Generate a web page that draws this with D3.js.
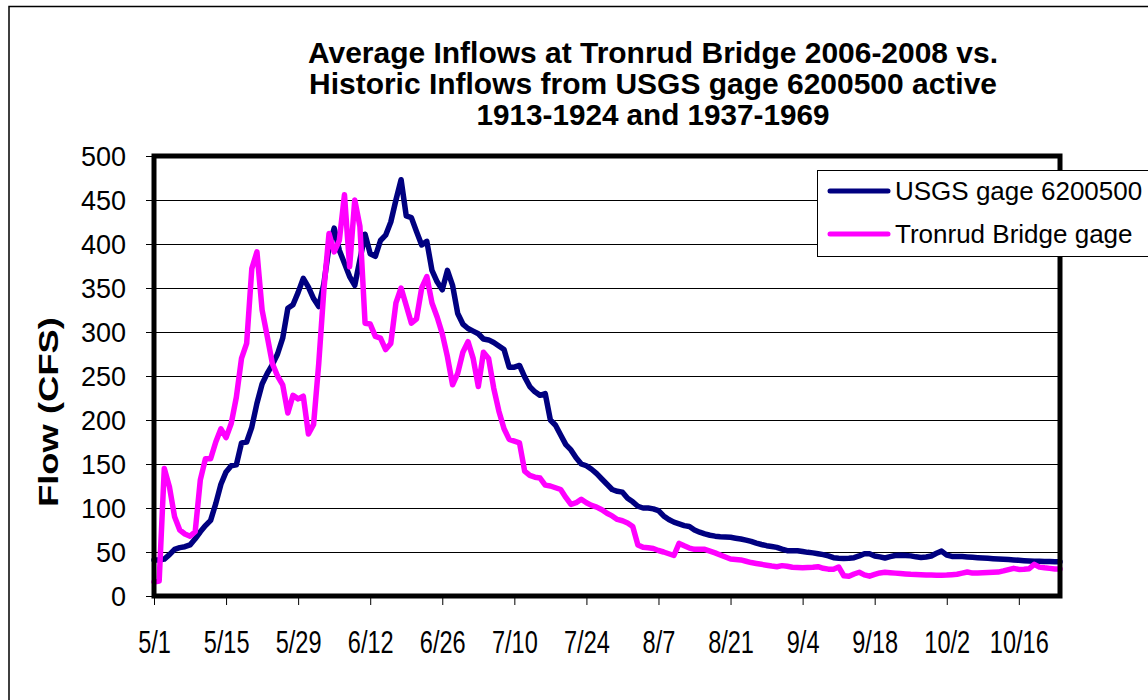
<!DOCTYPE html>
<html>
<head>
<meta charset="utf-8">
<script src="https://cdn.jsdelivr.net/npm/d3@7"></script>
<style>
  body { margin: 0; background: #fff; }
  text { font-family: "Liberation Sans", Arial, sans-serif; fill: #000; }
</style>
</head>
<body>
<svg id="chart"></svg>
<script>
// daily flows, 5/1 .. 10/24 (177 days)
const firstDay = "5/1";
const lastDay = "10/24";

const usgsFlow = [
  41, 41, 42, 47, 53, 55, 56, 58, 65, 73,
  80, 86, 105, 127, 141, 148, 149, 174, 175, 192,
  219, 241, 253, 263, 275, 293, 327, 331, 345, 361,
  351, 338, 329, 355, 397, 418, 393, 378, 363, 353,
  382, 411, 389, 386, 404, 410, 425, 450, 473, 432,
  430, 414, 399, 403, 370, 357, 348, 370, 353, 321,
  309, 304, 301, 298, 292, 291, 288, 284, 280, 260,
  260, 262, 249, 238, 232, 228, 230, 200, 194, 183,
  172, 166, 157, 150, 148, 144, 139, 133, 127, 121,
  119, 118, 111, 107, 102, 100, 100, 99, 97, 91,
  87, 84, 82, 80, 79, 75, 72.5, 70.5, 69, 68,
  67.4, 67, 66.7, 65.7, 64.8, 63.5, 62, 60, 58.5, 57.2,
  56.3, 55.3, 53.3, 51.5, 51.5, 51.5, 50.5, 49.6, 49, 48,
  47, 45.5, 43.5, 43, 42.7, 42.8, 43.5, 45.5, 48, 48,
  45.5, 44.5, 43.2, 44.8, 46, 46.2, 46, 45.6, 44.5, 43.7,
  44.4, 45.5, 48.5, 51, 46.5, 45, 45, 44.8, 44.4, 44,
  43.6, 43.2, 42.8, 42.4, 42.1, 41.8, 41.4, 41, 40.5, 40.1,
  39.8, 39.5, 39.4, 39.3, 39.1, 39, 39
];

const tronrudFlow = [
  16, 17, 145, 124, 90, 75, 70.5, 68, 73, 132,
  156, 156, 175, 190, 180, 196, 226, 270, 287, 372,
  391, 325, 295, 264, 250, 240, 208, 228, 224, 227,
  184, 195, 264, 348, 412, 391, 404, 456, 374, 450,
  420, 310, 309, 295, 293, 280, 287, 333, 350, 330,
  310, 315, 350, 363, 333, 317, 298, 272, 240, 253,
  277, 289, 270, 238, 277, 270, 236, 210, 190, 178,
  176, 174, 142, 137, 135, 134, 126, 125, 123, 121,
  112, 104, 106, 110, 106, 103, 101, 98, 94, 91,
  87, 85.5, 83, 79, 58, 55.3, 54.8, 54, 51.7, 50,
  48, 46, 59.8, 57, 54.5, 53, 53, 53, 51, 49,
  46.6, 44.3, 42, 41.5, 41, 39.5, 38, 37, 36, 35,
  34, 33.3, 34.5, 33.8, 32.7, 32.4, 32.2, 32.4, 32.6, 33.3,
  31.5, 30.5, 30.4, 33, 23, 22.5, 25, 27, 24, 22.5,
  24.5, 26.2, 27, 26.5, 26, 25.5, 25, 24.6, 24.4, 24.2,
  24, 23.8, 23.7, 23.6, 23.8, 24.2, 24.7, 26, 27.3, 26,
  26.1, 26.3, 26.6, 27, 27.2, 28.5, 30, 31.4, 30.2, 30.4,
  31, 36, 32.8, 32, 31.4, 30.8, 30.8
];

const seriesNames = ["USGS gage 6200500", "Tronrud Bridge gage"];
const seriesColors = ["#000080", "#ff00ff"];

const xTickLabels = ["5/1", "5/15", "5/29", "6/12", "6/26", "7/10", "7/24",
                     "8/7", "8/21", "9/4", "9/18", "10/2", "10/16"];
const yTicks = [0, 50, 100, 150, 200, 250, 300, 350, 400, 450, 500];

const titleLines = [
  "Average Inflows at Tronrud Bridge 2006-2008 vs.",
  "Historic Inflows from USGS gage 6200500 active",
  "1913-1924 and 1937-1969"
];
const yTitle = "Flow (CFS)";

const width = 1148, height = 700;
const plot = { left: 154, right: 1060, top: 156, bottom: 596 };

const parseDay = d3.timeParse("%m/%d");
const days = d3.timeDay.range(parseDay(firstDay), d3.timeDay.offset(parseDay(lastDay), 1));

const svg = d3.select("#chart")
  .attr("width", width)
  .attr("height", height);

svg.append("rect")
  .attr("width", width).attr("height", height)
  .attr("fill", "#fff");

// chart area border (runs off the picture on the right and bottom)
svg.append("rect")
  .attr("x", 9).attr("y", 6.5)
  .attr("width", 1200).attr("height", 800)
  .attr("fill", "none")
  .attr("stroke", "#000")
  .attr("stroke-width", 1.5);

const x = d3.scaleTime()
  .domain([days[0], days[days.length - 1]])
  .range([plot.left, plot.right]);

const y = d3.scaleLinear()
  .domain([0, 500])
  .range([plot.bottom, plot.top]);

// gridlines
svg.append("g")
  .selectAll("line")
  .data(yTicks.slice(1, -1))
  .enter()
  .append("line")
    .attr("x1", plot.left).attr("x2", plot.right)
    .attr("y1", d => Math.round(y(d)) + 0.5)
    .attr("y2", d => Math.round(y(d)) + 0.5)
    .attr("stroke", "#000")
    .attr("stroke-width", 1);

// y axis
const yAxis = svg.append("g")
  .attr("transform", `translate(${plot.left - 2},0)`)
  .call(d3.axisLeft(y).tickValues(yTicks).tickSize(6).tickPadding(20));
yAxis.select(".domain").remove();
yAxis.selectAll("line").attr("stroke", "#000");
yAxis.selectAll("text")
  .attr("font-size", 27)
  .attr("dy", "0.36em")
  .style("font-family", "'Liberation Sans', Arial, sans-serif");

// x axis
const xAxis = svg.append("g")
  .attr("transform", `translate(0,${plot.bottom + 2})`)
  .call(d3.axisBottom(x)
    .tickValues(xTickLabels.map(parseDay))
    .tickSize(7)
    .tickFormat((d, i) => xTickLabels[i]));
xAxis.select(".domain").remove();
xAxis.selectAll("line").attr("stroke", "#000");
xAxis.selectAll("text")
  .attr("font-size", 31)
  .attr("y", 0)
  .attr("dy", 0)
  .attr("transform", "translate(0,55) scale(0.76,1)")
  .style("font-family", "'Liberation Sans', Arial, sans-serif");

// lines
const line = d3.line()
  .x((d, i) => x(days[i]))
  .y(d => y(d));

[usgsFlow, tronrudFlow].forEach((s, k) => {
  svg.append("path")
    .datum(s)
    .attr("fill", "none")
    .attr("stroke", seriesColors[k])
    .attr("stroke-width", 5.5)
    .attr("stroke-linejoin", "round")
    .attr("stroke-linecap", "round")
    .attr("d", line);
});

// plot frame
svg.append("rect")
  .attr("x", plot.left).attr("y", plot.top)
  .attr("width", plot.right - plot.left)
  .attr("height", plot.bottom - plot.top)
  .attr("fill", "none")
  .attr("stroke", "#000")
  .attr("stroke-width", 5);

// title
svg.append("g")
  .selectAll("text")
  .data(titleLines)
  .enter()
  .append("text")
    .attr("x", 653)
    .attr("y", (d, i) => 63 + i * 31)
    .attr("text-anchor", "middle")
    .attr("font-size", 29)
    .attr("font-weight", "bold")
    .attr("textLength", (d, i) => [690, 688, 353][i])
    .attr("lengthAdjust", "spacingAndGlyphs")
    .text(d => d);

// y title
svg.append("text")
  .attr("transform", "translate(58,412) rotate(-90)")
  .attr("text-anchor", "middle")
  .attr("font-size", 27)
  .attr("font-weight", "bold")
  .attr("textLength", 190)
  .attr("lengthAdjust", "spacingAndGlyphs")
  .text(yTitle);

// legend
const legend = svg.append("g");
legend.append("rect")
  .attr("x", 817.5).attr("y", 170.5)
  .attr("width", 400).attr("height", 86)
  .attr("fill", "#fff")
  .attr("stroke", "#000")
  .attr("stroke-width", 1);

seriesNames.forEach((name, k) => {
  const ly = 191 + k * 43;
  legend.append("line")
    .attr("x1", 830).attr("x2", 888)
    .attr("y1", ly).attr("y2", ly)
    .attr("stroke", seriesColors[k])
    .attr("stroke-width", 5)
    .attr("stroke-linecap", "round");
  legend.append("text")
    .attr("x", 895)
    .attr("y", ly + 9)
    .attr("font-size", 26)
    .text(name);
});
</script>
</body>
</html>
